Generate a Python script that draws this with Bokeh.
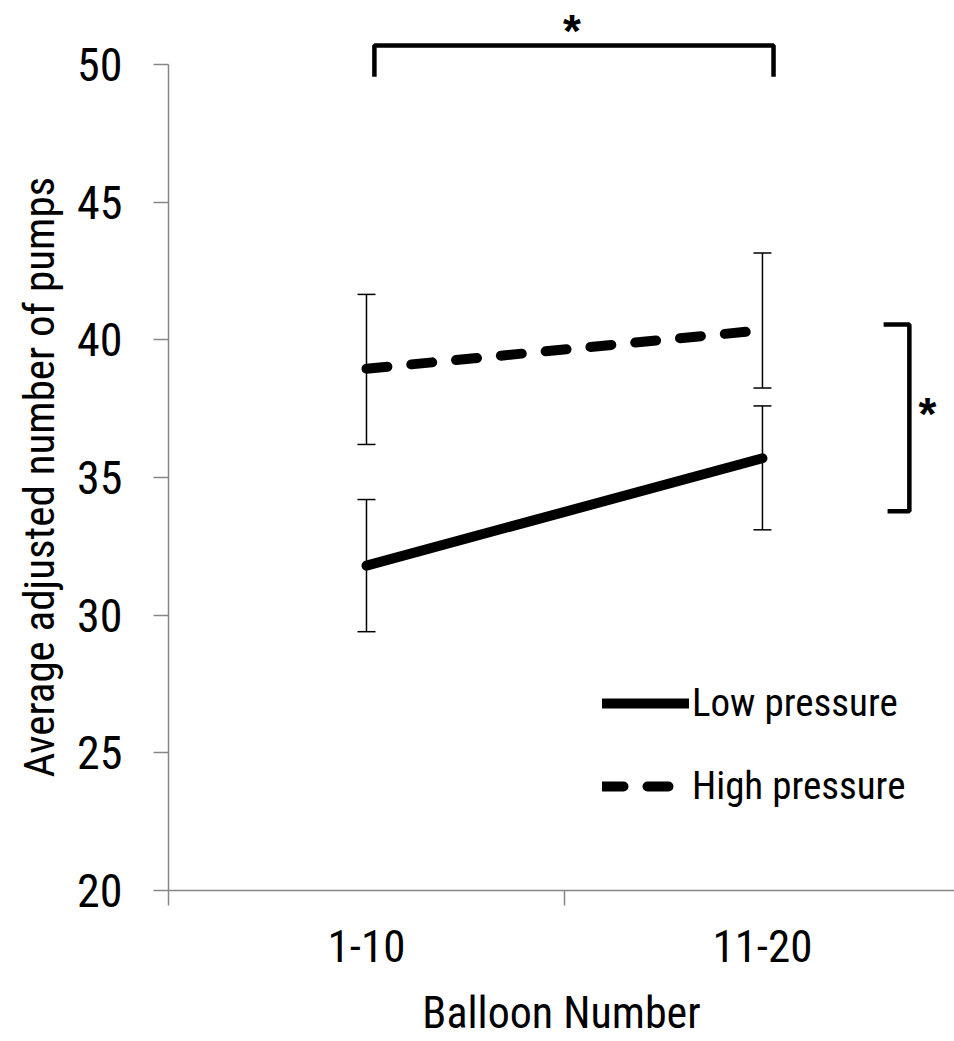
from bokeh.plotting import figure
from bokeh.models import (Range1d, FixedTicker, Whisker, ColumnDataSource, Legend,
                          LegendItem, Label, TeeHead, Title)
from bokeh.embed import file_html
from bokeh.resources import INLINE

# ---- data ----
categories = ["1-10", "11-20"]
cat_pos = [0.5, 1.5]
low_mean = [31.8, 35.7]
low_upper = [34.2, 37.6]
low_lower = [29.4, 33.1]
high_mean = [38.95, 40.35]
high_upper = [41.65, 43.15]
high_lower = [36.2, 38.25]
y_ticks = [20, 25, 30, 35, 40, 45, 50]
x_minor = [0, 1, 2]
y_title = "Average adjusted number of pumps"
x_title = "Balloon Number"

# significance brackets (annotation geometry)
top_bracket_x = [0.52, 0.52, 1.528, 1.528]
top_bracket_y = [49.56, 50.69, 50.69, 49.56]
side_bracket_x = [1.806, 1.871, 1.871, 1.816]
side_bracket_y = [40.56, 40.56, 33.77, 33.77]
star_top = (1.019, 51.2)
star_side = (1.917, 37.29)

FONT = "Roboto Condensed"
AXIS_COLOR = "#868686"

p = figure(width=954, height=1041, x_range=Range1d(0, 1.985), y_range=Range1d(20, 52.325),
           output_backend="svg", toolbar_location=None,
           min_border_left=168, min_border_right=0, min_border_top=0, min_border_bottom=151)
p.outline_line_color = None
p.grid.visible = False

# error bars
for up, lo in ((low_upper, low_lower), (high_upper, high_lower)):
    src = ColumnDataSource(dict(x=cat_pos, upper=up, lower=lo))
    w = Whisker(base="x", upper="upper", lower="lower", source=src,
                line_width=1.5, line_color="black", level="underlay",
                upper_head=TeeHead(size=18, line_width=1.5, line_color="black"),
                lower_head=TeeHead(size=18, line_width=1.5, line_color="black"))
    p.add_layout(w)

r_low = p.line(cat_pos, low_mean, line_width=10, line_color="black", line_cap="round")
r_high = p.line(cat_pos, high_mean, line_width=10, line_color="black", line_cap="round",
                line_dash="21 24")

# brackets
p.line(top_bracket_x, top_bracket_y, line_width=4.5, line_color="black")
p.line(side_bracket_x, side_bracket_y, line_width=4.5, line_color="black")
for (sx, sy) in (star_top, star_side):
    p.add_layout(Label(x=sx, y=sy, text="*", text_font_size="46px", text_font_style="bold",
                       text_font="Liberation Sans", text_color="black",
                       text_align="center", text_baseline="middle"))

# axes
p.yaxis.bounds = (20, 50)
p.yaxis.ticker = FixedTicker(ticks=y_ticks, minor_ticks=[])
p.yaxis.axis_line_color = AXIS_COLOR
p.yaxis.axis_line_width = 1.5
p.yaxis.major_tick_line_color = AXIS_COLOR
p.yaxis.major_tick_line_width = 1.5
p.yaxis.major_tick_out = 15
p.yaxis.major_tick_in = 0
p.yaxis.minor_tick_line_color = None
p.yaxis.major_label_text_font = FONT
p.yaxis.major_label_text_font_size = "46px"
p.yaxis.major_label_text_color = "black"
p.yaxis.major_label_standoff = 31

# y-axis title placed as a left-side title so it can be centred on the 20-50 span
p.add_layout(Title(text=y_title, align="left", offset=113, standoff=22,
                   text_font=FONT, text_font_size="43px", text_font_style="normal",
                   text_color="black"), "left")

p.xaxis.bounds = (0, 2)
p.xaxis.ticker = FixedTicker(ticks=cat_pos, minor_ticks=x_minor)
p.xaxis.major_label_overrides = {cat_pos[i]: categories[i] for i in range(len(categories))}
p.xaxis.axis_line_color = AXIS_COLOR
p.xaxis.axis_line_width = 1.5
p.xaxis.major_tick_line_color = None
p.xaxis.major_tick_out = 15
p.xaxis.major_tick_in = 0
p.xaxis.minor_tick_line_color = AXIS_COLOR
p.xaxis.minor_tick_line_width = 1.5
p.xaxis.minor_tick_out = 15
p.xaxis.minor_tick_in = 0
p.xaxis.major_label_text_font = FONT
p.xaxis.major_label_text_font_size = "45px"
p.xaxis.major_label_text_color = "black"
p.xaxis.major_label_standoff = 24
p.xaxis.axis_label = x_title
p.xaxis.axis_label_text_font = FONT
p.xaxis.axis_label_text_font_size = "44px"
p.xaxis.axis_label_text_font_style = "normal"
p.xaxis.axis_label_text_color = "black"
p.xaxis.axis_label_standoff = 22

legend = Legend(items=[LegendItem(label="Low pressure", renderers=[r_low]),
                       LegendItem(label="High pressure", renderers=[r_high])],
                location=(434, 79), glyph_width=87, glyph_height=50, label_height=50,
                spacing=33, padding=0, margin=0, label_standoff=3,
                label_text_font=FONT, label_text_font_size="39px", label_text_color="black",
                border_line_color=None, background_fill_alpha=0)
p.add_layout(legend)

open("out.html", "w").write(file_html(p, INLINE))
